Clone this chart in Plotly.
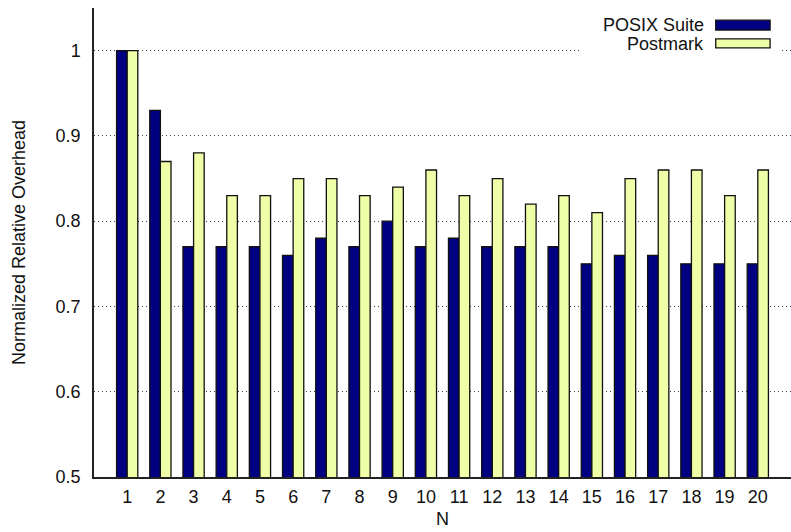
import plotly.graph_objects as go

# Relative overhead per N, normalised to N=1
n_values = list(range(1, 21))
posix_suite = [1.00, 0.93, 0.77, 0.77, 0.77, 0.76, 0.78, 0.77, 0.80, 0.77,
               0.78, 0.77, 0.77, 0.77, 0.75, 0.76, 0.76, 0.75, 0.75, 0.75]
postmark = [1.00, 0.87, 0.88, 0.83, 0.83, 0.85, 0.85, 0.83, 0.84, 0.86,
            0.83, 0.85, 0.82, 0.83, 0.81, 0.85, 0.86, 0.86, 0.83, 0.86]
y_ticks = [0.5, 0.6, 0.7, 0.8, 0.9, 1.0]
y_tick_text = ["0.5", "0.6", "0.7", "0.8", "0.9", "1"]

series_names = ["POSIX Suite", "Postmark"]
series_colors = ["#000080", "#EEFFA8"]

FONT = "Liberation Sans, Arial, Helvetica, sans-serif"
FS = 18

fig = go.Figure()
for name, vals, col in zip(series_names, [posix_suite, postmark], series_colors):
    fig.add_trace(go.Bar(
        x=n_values, y=vals, name=name,
        marker=dict(color=col, line=dict(color="#111111", width=1.3)),
        showlegend=False,
    ))

fig.update_layout(
    width=791, height=532,
    margin=dict(l=94, r=0, t=8, b=55),
    paper_bgcolor="white", plot_bgcolor="white",
    barmode="group", bargap=0.36, bargroupgap=0,
    font=dict(family=FONT, size=FS, color="#111111"),
    xaxis=dict(
        range=[0, 21], tickmode="array", tickvals=n_values,
        ticktext=[str(v) for v in n_values],
        showgrid=False, zeroline=False,
        showline=True, linecolor="#222222", linewidth=1.5,
        ticks="", ticklabelstandoff=3,
        title=dict(text="N", standoff=6, font=dict(size=FS)),
    ),
    yaxis=dict(
        range=[0.5, 1.05], tickmode="array", tickvals=y_ticks,
        ticktext=y_tick_text,
        showgrid=True, gridcolor="#444444", gridwidth=1, griddash="1px,3px",
        zeroline=False,
        showline=True, linecolor="#222222", linewidth=1.5,
        ticks="", ticklabelstandoff=8,
        title=dict(text="Normalized Relative Overhead", standoff=25,
                   font=dict(size=FS)),
    ),
)

# Key box in the top-right corner, text on the left and swatch on the right
shapes = [dict(type="rect", xref="paper", yref="paper",
               x0=0.697, x1=0.984, y0=0.905, y1=0.998,
               fillcolor="white", line=dict(width=0), layer="above")]
annotations = []
rows = [(0.974, 0.953, 0.964), (0.934, 0.915, 0.923)]
for (ytop, ybot, ytxt), name, col in zip(rows, series_names, series_colors):
    shapes.append(dict(type="rect", xref="paper", yref="paper",
                       x0=0.892, x1=0.970, y0=ybot, y1=ytop,
                       fillcolor=col, line=dict(color="#111111", width=1.3),
                       layer="above"))
    annotations.append(dict(xref="paper", yref="paper", x=0.878, y=ytxt,
                            text=name, showarrow=False, xanchor="right",
                            yanchor="middle", font=dict(size=FS)))
fig.update_layout(shapes=shapes, annotations=annotations)

fig.write_html("out.html")
